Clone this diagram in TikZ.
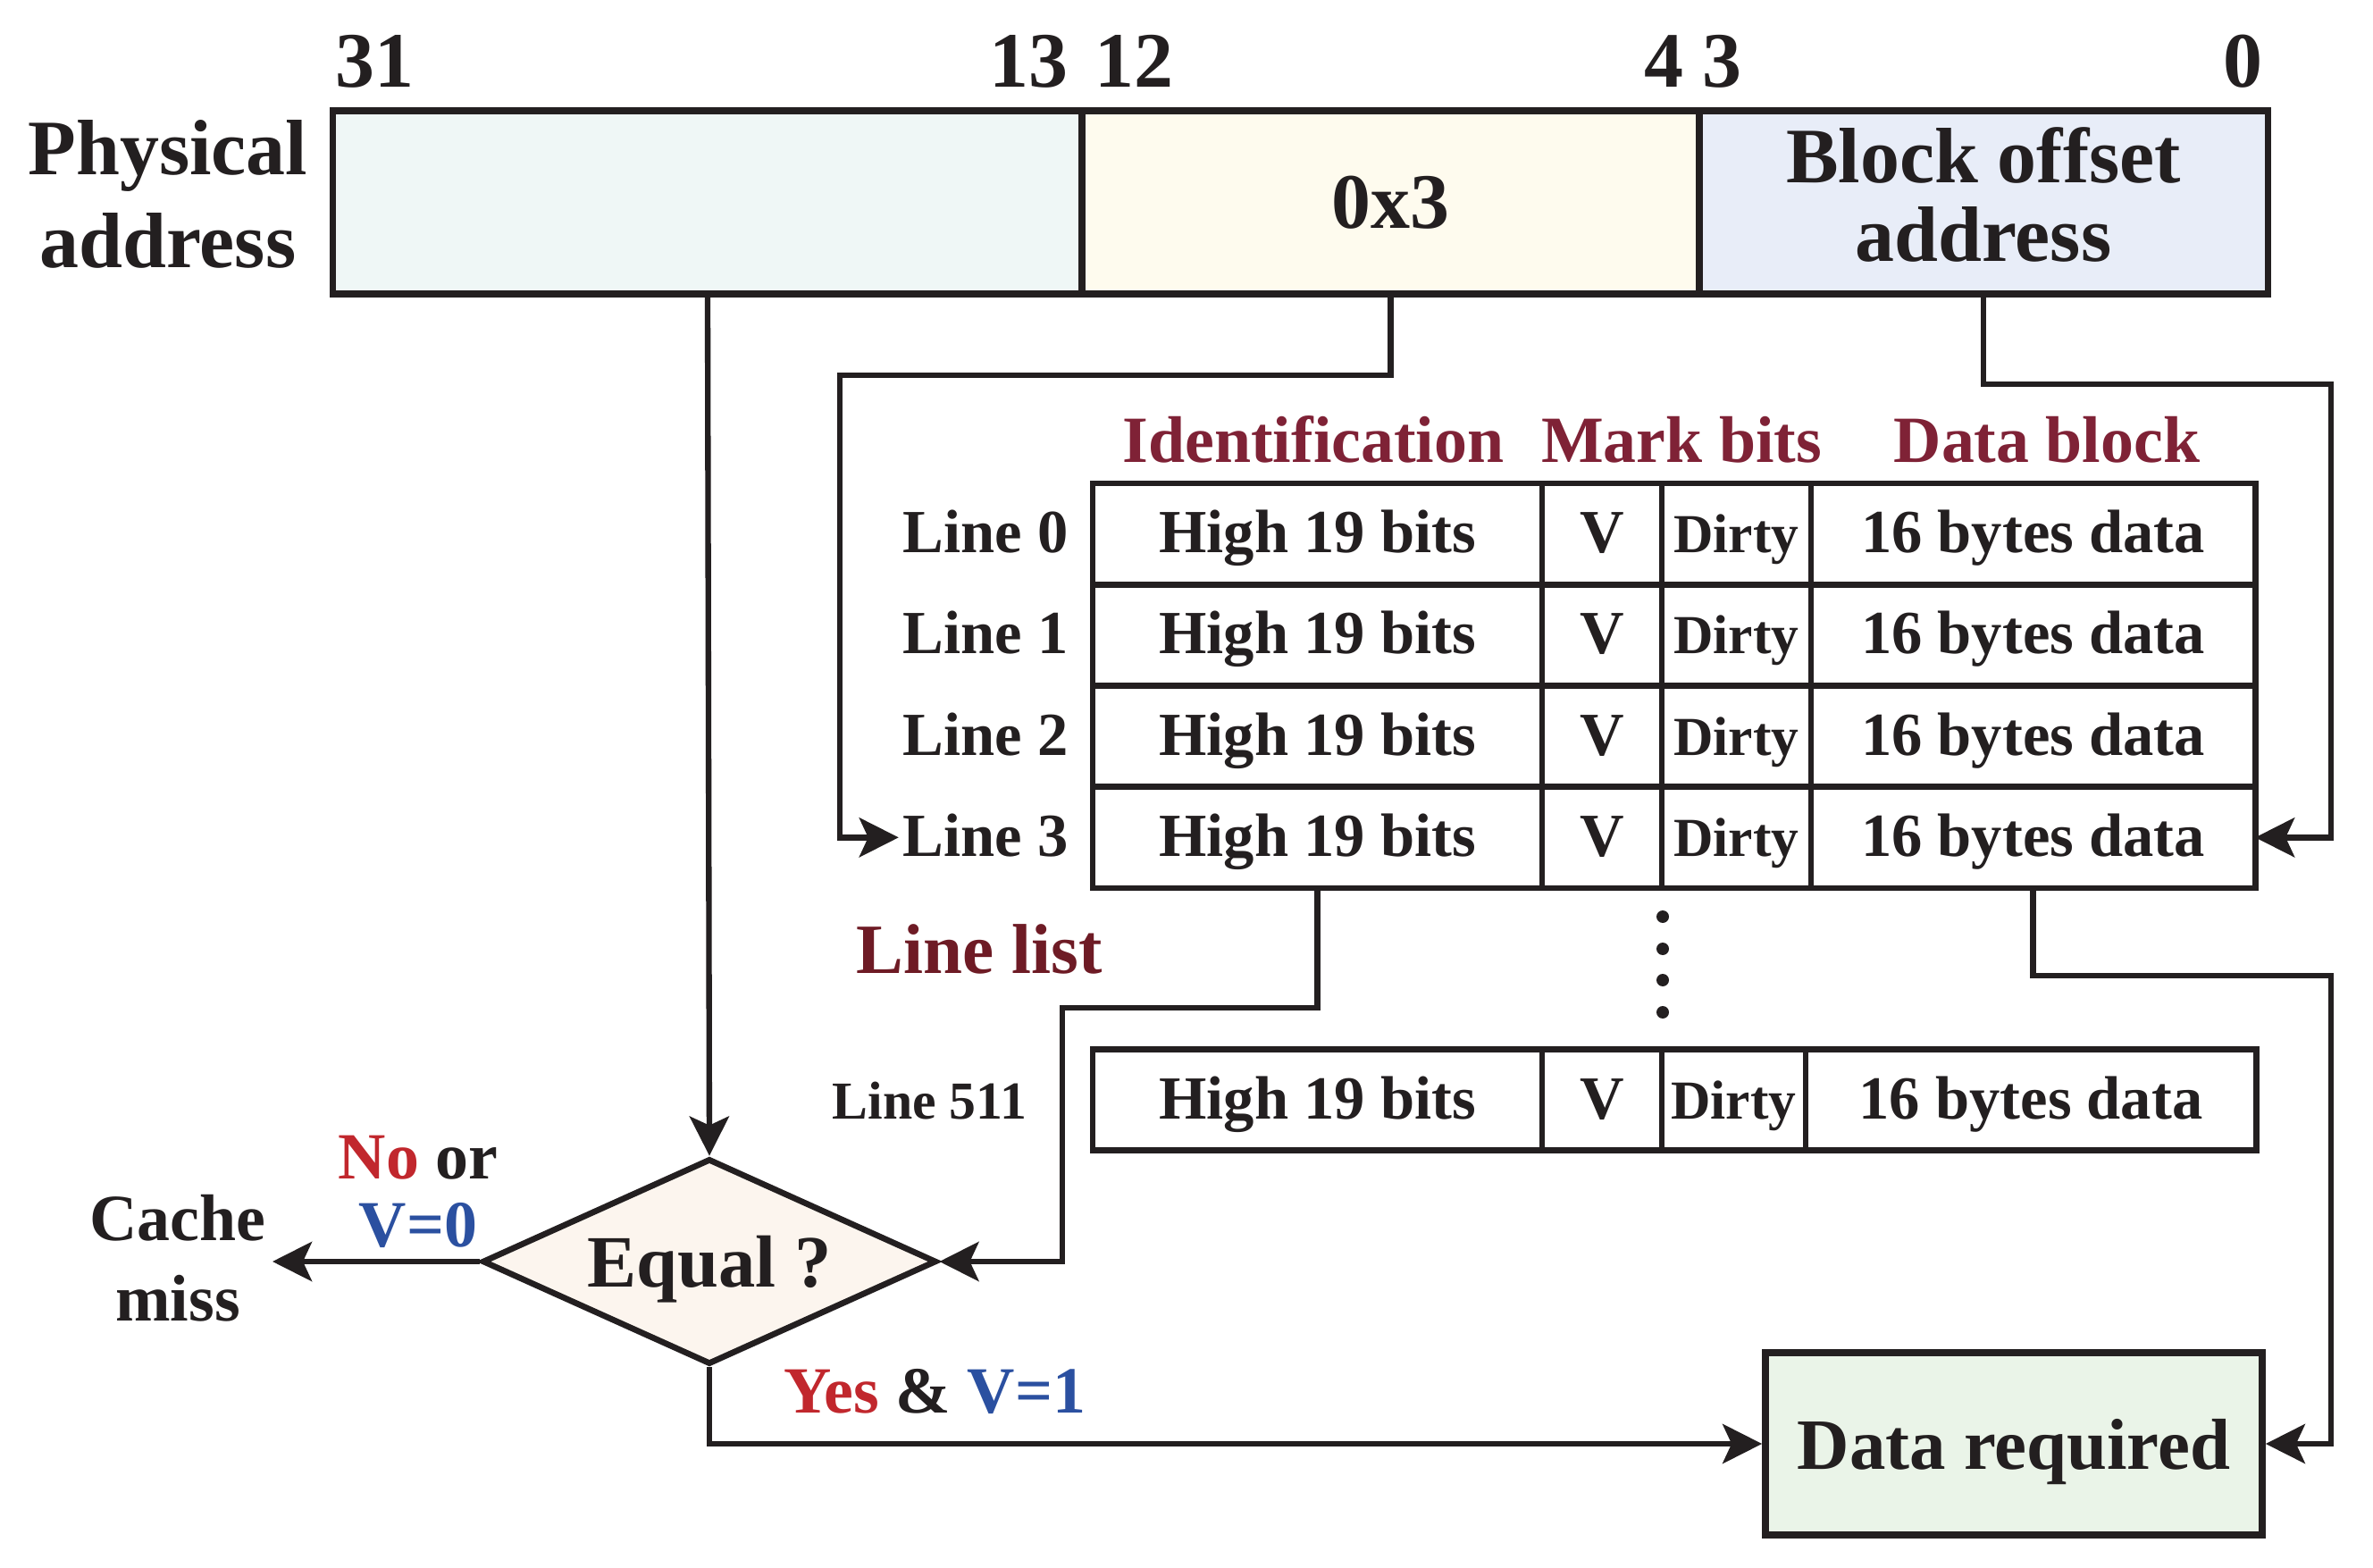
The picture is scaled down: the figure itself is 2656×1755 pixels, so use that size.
\documentclass[tikz,border=0pt]{standalone}
\usepackage{fontspec}
\setmainfont{Liberation Serif}
\usetikzlibrary{arrows.meta,shapes.geometric}
\definecolor{ink}{HTML}{231F20}
\definecolor{fillA}{HTML}{EFF7F6}
\definecolor{fillB}{HTML}{FEFBEE}
\definecolor{fillC}{HTML}{E8EDF8}
\definecolor{fillEq}{HTML}{FCF5EE}
\definecolor{fillReq}{HTML}{EAF4E8}
\definecolor{hdred}{HTML}{7F2236}
\definecolor{llred}{HTML}{6E1B25}
\definecolor{nored}{HTML}{C1272D}
\definecolor{vblue}{HTML}{2B50A0}
\newcommand{\fs}[1]{\bfseries\fontsize{#1}{#1}\selectfont}
\newcommand{\fsl}[2]{\bfseries\fontsize{#1}{#2}\selectfont}
\begin{document}
\begin{tikzpicture}[x=0.01cm,y=-0.01cm,
  every node/.style={text=ink},
  topcell/.style={draw=ink,line width=2.1pt,inner sep=0pt,outer sep=0pt,minimum height=2.05cm,font=\fs{25}},
  cell/.style={draw=ink,line width=1.9pt,inner sep=0pt,outer sep=0pt,minimum height=1.1325cm,text height=12pt,text depth=0pt,font=\fs{19.5}},
  dcell/.style={cell,font=\fs{17.5}},
  linelab/.style={anchor=east,inner sep=0.04cm,text height=12pt,text depth=0pt,font=\fs{19.5}},
  hdr/.style={anchor=base,inner sep=0pt,text=hdred,font=\fs{21}},
  bitnum/.style={inner sep=0pt,font=\fs{25}},
  conn/.style={draw=ink,line width=1.8pt},
  arr/.style={conn,-{Stealth[length=0.44cm,width=0.44cm,inset=0.1cm]}}
]
\useasboundingbox (0,0) rectangle (2656,1755);

% physical address fields
\node[topcell,fill=fillA,minimum width=8.38cm] (c1) at (792,226.5) {};
\node[topcell,fill=fillB,minimum width=6.91cm] (c2) at (1556.5,226.5) {0x3};
\node[topcell,fill=fillC,minimum width=6.36cm] (c3) at (2220,226.5) {};
\node[align=center,inner sep=0pt,font={\fsl{25}{24.75}}] (blk) at (2220,218) {Block offset\\address};
\node[align=center,inner sep=0pt,font={\fsl{25}{29.6}}] (phys) at (188,217.5) {Physical\\address};

% bit numbers
\node[bitnum,anchor=base west] (n31) at (375,98) {31};
\node[bitnum,anchor=base east] (n13) at (1196,98) {13};
\node[bitnum,anchor=base west] (n12) at (1225,98) {12};
\node[bitnum,anchor=base east] (n4) at (1885,98) {4};
\node[bitnum,anchor=base west] (n3) at (1905,98) {3};
\node[bitnum,anchor=base east] (n0) at (2533,98) {0};

% headers
\node[hdr] (hid) at (1470,518) {Identification};
\node[hdr] (hmk) at (1882,518) {Mark bits};
\node[hdr] (hdb) at (2291,518) {Data block};

% table rows
\foreach \r in {0,1,2,3} {
  \pgfmathsetmacro\cy{597.6+113.25*\r}
  \node[cell,minimum width=5.03cm] (I\r) at (1474.5,\cy) {High 19 bits};
  \node[cell,minimum width=1.34cm] (V\r) at (1793,\cy) {V};
  \node[dcell,minimum width=1.67cm] (Dt\r) at (1943.5,\cy) {Dirty};
  \node[cell,minimum width=4.97cm] (D\r) at (2275.5,\cy) {16 bytes data};
  \node[linelab] (L\r) at (1200,\cy) {Line \r};
}
% line 511
\node[cell,minimum width=5.03cm] (I511) at (1474.5,1231) {High 19 bits};
\node[cell,minimum width=1.34cm] (V511) at (1793,1231) {V};
\node[dcell,minimum width=1.61cm] (Dt511) at (1940.5,1231) {Dirty};
\node[cell,minimum width=5.04cm] (D511) at (2273,1231) {16 bytes data};
\node[linelab,font=\fs{17}] (L511) at (1154,1231) {Line 511};

% dots
\foreach \yy in {1026,1062,1097,1133} \fill[ink] (1861,\yy) circle (7);

\node[anchor=base west,inner sep=0pt,text=llred,font=\fs{22.5}] (llist) at (958,1090) {Line list};

% decision and result
\node[diamond,shape aspect=2.2087,draw=ink,fill=fillEq,line width=1.9pt,minimum width=5.08cm,minimum height=2.30cm,inner sep=0pt,text depth=0pt,font=\fs{23.5}] (eq) at (794,1412) {Equal ?};
\node[draw=ink,fill=fillReq,line width=2.1pt,minimum width=5.56cm,minimum height=2.04cm,inner sep=0pt,text depth=0pt,font=\fs{23}] (req) at (2254,1616) {Data required};

\node[align=center,inner sep=0pt,font={\fsl{21}{25.6}}] (miss) at (199,1408) {Cache\\miss};
\node[align=center,inner sep=0pt,font={\fsl{21}{21.6}}] (nolab) at (468,1334) {\textcolor{nored}{No} or\\\textcolor{vblue}{V=0}};
\node[anchor=base west,inner sep=0pt,font=\fs{21}] (yeslab) at (877,1581) {\textcolor{nored}{Yes} \& \textcolor{vblue}{V=1}};

% connectors
\coordinate (j2) at (940,420);
\coordinate (j3) at (2609,430);
\coordinate (j4) at (1189,1128);
\coordinate (j5) at (2609,1092);
\coordinate (misstip) at (305,1412);
\draw[arr] (c1.south) -- (eq.north);
\draw[arr] (c2.south) |- (j2) |- (L3.west);
\draw[arr] (c3.south) |- (j3) |- (D3.east);
\draw[arr] (I3.south) |- (j4) |- (eq.east);
\draw[arr] (D3.south) |- (j5) |- (req.east);
\draw[arr] (eq.south) |- (req.west);
\draw[arr] (eq.west) -- (misstip);
\end{tikzpicture}
\end{document}
